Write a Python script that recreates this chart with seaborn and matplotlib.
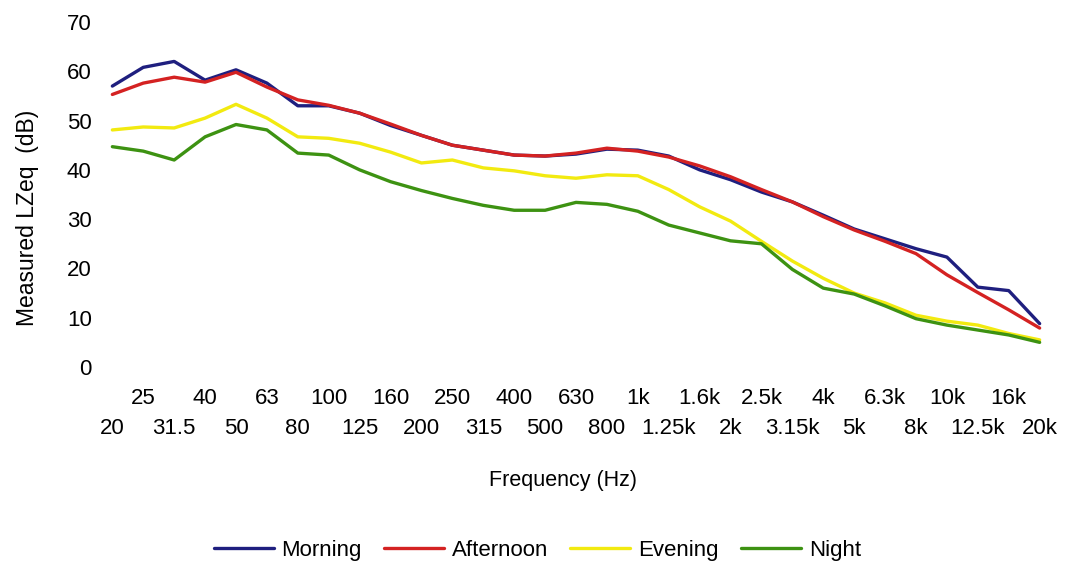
import numpy as np
import pandas as pd
import seaborn as sns
import matplotlib.pyplot as plt

freqs = ["20", "25", "31.5", "40", "50", "63", "80", "100", "125", "160",
         "200", "250", "315", "400", "500", "630", "800", "1k", "1.25k", "1.6k",
         "2k", "2.5k", "3.15k", "4k", "5k", "6.3k", "8k", "10k", "12.5k", "16k", "20k"]

morning = [57.0, 60.8, 62.0, 58.2, 60.3, 57.6, 53.0, 53.0, 51.5, 49.0,
           47.0, 45.0, 44.0, 43.0, 42.8, 43.2, 44.2, 44.0, 42.8, 40.0,
           38.0, 35.5, 33.5, 30.8, 28.0, 26.0, 24.0, 22.3, 16.2, 15.5, 8.8]
afternoon = [55.3, 57.6, 58.8, 57.8, 59.8, 56.8, 54.2, 53.1, 51.5, 49.3,
             47.0, 45.0, 44.0, 43.0, 42.8, 43.4, 44.4, 43.8, 42.6, 40.8,
             38.6, 36.0, 33.5, 30.5, 27.8, 25.5, 23.0, 18.7, 15.1, 11.6, 7.9]
evening = [48.1, 48.7, 48.5, 50.5, 53.3, 50.5, 46.7, 46.4, 45.4, 43.6,
           41.4, 42.0, 40.4, 39.8, 38.8, 38.3, 39.0, 38.8, 36.0, 32.5,
           29.6, 25.5, 21.5, 18.0, 15.0, 13.0, 10.5, 9.3, 8.5, 6.8, 5.5]
night = [44.7, 43.8, 42.0, 46.7, 49.2, 48.1, 43.4, 43.0, 40.0, 37.6,
         35.8, 34.2, 32.8, 31.8, 31.8, 33.4, 33.0, 31.6, 28.8, 27.2,
         25.6, 25.0, 19.8, 16.0, 14.8, 12.4, 9.8, 8.5, 7.5, 6.5, 5.0]

periods = ["Morning", "Afternoon", "Evening", "Night"]
colors = ["#1f1f7f", "#d42222", "#f2ea10", "#3d9212"]

sns.set_style("white")
plt.rcParams['font.family'] = ['Liberation Sans', 'DejaVu Sans']
plt.rcParams['text.color'] = 'black'
plt.rcParams['axes.labelcolor'] = 'black'
plt.rcParams['xtick.color'] = 'black'
plt.rcParams['ytick.color'] = 'black'

pos = np.arange(len(freqs))
df = pd.DataFrame({
    "pos": np.tile(pos, 4),
    "level": morning + afternoon + evening + night,
    "period": np.repeat(periods, len(freqs)),
})

fig = plt.figure(figsize=(10.66, 5.63), dpi=100)
ax = fig.add_axes([100 / 1066, 196 / 563, 952 / 1066, 345 / 563])
sns.lineplot(data=df, x="pos", y="level", hue="period", hue_order=periods,
             palette=colors, linewidth=2.4, ax=ax, legend=True)
for ln in ax.get_lines():
    ln.set_solid_capstyle("round")
    ln.set_solid_joinstyle("round")

ax.set_xlim(-0.4, 30.4)
ax.set_ylim(0, 70)
ax.set_yticks(range(0, 71, 10))
ax.tick_params(axis="y", length=0, pad=6, labelsize=16)

# two rows of frequency labels
ax.set_xticks(pos[::2])
ax.set_xticklabels(freqs[::2])
ax.set_xticks(pos[1::2], minor=True)
ax.set_xticklabels(freqs[1::2], minor=True)
ax.tick_params(axis="x", which="major", length=0, pad=37, labelsize=16)
ax.tick_params(axis="x", which="minor", length=0, pad=15, labelsize=16)

ax.set_xlabel("Frequency (Hz)", fontsize=15.5, labelpad=22)
ax.set_ylabel("Measured LZeq  (dB)", fontsize=16.5, labelpad=20)
ax.xaxis.label.set_x((563 - 100) / 952)
ax.yaxis.label.set_y((367 - 218) / 345)
sns.despine(ax=ax, left=True, bottom=True)

handles, labels = ax.get_legend_handles_labels()
ax.legend_.remove()
fig.legend(handles, labels, loc="center", bbox_to_anchor=(0.504, 0.023),
           ncol=4, frameon=False, fontsize=16, handlelength=2.7,
           handletextpad=0.35, columnspacing=1.0)

fig.savefig("out.png", dpi=100)
